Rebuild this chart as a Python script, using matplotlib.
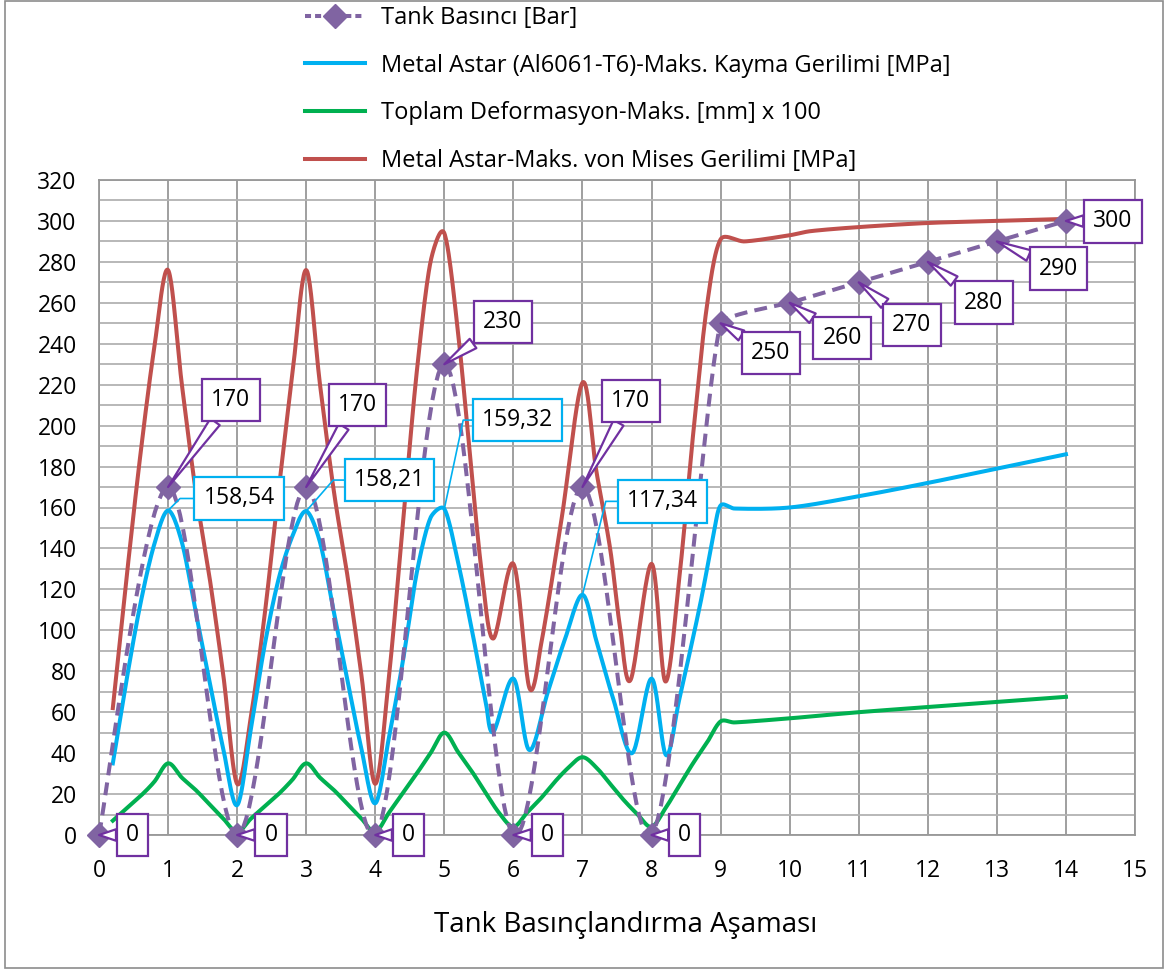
import matplotlib.pyplot as plt
from matplotlib.lines import Line2D
from matplotlib.patches import Rectangle
import numpy as np

plt.rcParams['font.family'] = ['Open Sans', 'DejaVu Sans']

# Tank Basıncı [Bar]
tank_x = [0, 1, 2, 3, 4, 5, 6, 7, 8, 9, 10, 11, 12, 13, 14]
tank_y = [0, 170, 0, 170, 0, 230, 0, 170, 0, 250, 260, 270, 280, 290, 300]

# Metal Astar (Al6061-T6)-Maks. Kayma Gerilimi [MPa]
shear_x = [0.2, 0.4, 0.6, 0.8, 1.0, 1.2, 1.4, 1.6, 1.8, 2.0,
           2.2, 2.4, 2.6, 2.8, 3.0, 3.2, 3.4, 3.6, 3.8, 4.0,
           4.2, 4.4, 4.6, 4.8, 5.0, 5.2, 5.4, 5.6, 5.71, 6.0,
           6.23, 6.5, 6.75, 7.0, 7.2, 7.45, 7.72, 8.0, 8.21, 8.4,
           8.7, 8.9, 9.0, 9.2, 10, 11, 12, 13, 14]
shear_y = [35, 76, 113, 142, 158.54, 143, 109, 75, 42, 14.6,
           52, 93, 125, 146, 158.21, 143, 109, 75, 42, 15.5,
           48, 85, 128, 155, 159.32, 133, 100, 65, 50.4, 76.4,
           41.5, 70, 96, 117.34, 95, 66, 40, 76.4, 39, 66,
           112, 147, 161, 159.5, 160, 165.5, 172, 179, 186]

# Toplam Deformasyon-Maks. [mm] x 100
defo_x = [0.2, 0.4, 0.6, 0.8, 1.0, 1.2, 1.4, 1.6, 1.8, 2.0,
          2.2, 2.4, 2.6, 2.8, 3.0, 3.2, 3.4, 3.6, 3.8, 4.0,
          4.2, 4.4, 4.6, 4.8, 5.0, 5.2, 5.4, 5.6, 5.8, 6.0,
          6.2, 6.4, 6.6, 6.8, 7.0, 7.2, 7.4, 7.6, 7.8, 8.0,
          8.2, 8.4, 8.6, 8.8, 9.0, 9.2, 10, 11, 12, 13, 14]
defo_y = [7, 13, 19, 26, 35, 28, 22, 15, 8, 1.5,
          8, 14, 20, 27, 35, 28, 22, 15, 8, 1.5,
          11, 20.5, 30, 40, 50, 40.5, 31, 20.5, 10.5, 4,
          11, 18, 26, 33, 38, 33, 25, 17, 10, 4,
          13, 24, 35, 45, 55.5, 55, 57, 60, 62.5, 65, 67.5]

# Metal Astar-Maks. von Mises Gerilimi [MPa]
mises_x = [0.2, 0.4, 0.6, 0.8, 1.0, 1.2, 1.4, 1.6, 1.8, 2.0,
           2.2, 2.4, 2.6, 2.8, 3.0, 3.2, 3.4, 3.6, 3.8, 4.0,
           4.2, 4.4, 4.6, 4.8, 5.0, 5.2, 5.4, 5.55, 5.71, 6.0,
           6.23, 6.4, 6.7, 7.0, 7.2, 7.4, 7.55, 7.7, 8.0, 8.2,
           8.4, 8.6, 8.8, 9.0, 9.35, 10.0, 10.3, 11, 12, 13, 14]
mises_y = [62, 126, 186, 238, 276, 220, 168, 126, 78, 25,
           58, 108, 168, 225, 276, 220, 168, 126, 78, 25,
           78, 152, 226, 280, 294, 245, 175, 126, 96, 132.5,
           72, 93, 155, 221, 178, 140, 100, 76, 132.5, 75,
           125, 195, 258, 291, 290, 293, 295, 297, 299, 300, 301]

# etiket kutuları (konum: veri koordinatı)
tank_lbl_pos = [(0.485, 0), (1.91, 212.6), (2.49, 0), (3.74, 210.2), (4.48, 0),
                (5.845, 250.6), (6.49, 0), (7.70, 212.1), (8.48, 0), (9.73, 235.5),
                (10.76, 242.7), (11.77, 249.0), (12.81, 260.1), (13.89, 276.7),
                (14.68, 299.8)]
shear_lbl = [(1.0, 158.54, '158,54', 2.03, 164.4, 45),
             (3.0, 158.21, '158,21', 4.21, 173.4, 49),
             (5.0, 159.32, '159,32', 6.06, 202.7, 78),
             (7.0, 117.34, '117,34', 8.16, 163.0, 76)]

PURPLE = '#8064A2'
BLUE = '#00B0F0'
GREEN = '#00B050'
RED = '#C0504D'
LBL_PURPLE = '#7030A0'

fig = plt.figure(figsize=(11.68, 9.76), dpi=100)
fig.add_artist(Rectangle((5 / 1168, 8 / 976), 1158 / 1168, 967 / 976,
                         transform=fig.transFigure, fill=False,
                         ec='#8c8c8c', lw=1.2))
ax = fig.add_axes([99 / 1168, 141 / 976, 1036 / 1168, 655 / 976])
ax.set_xlim(0, 15)
ax.set_ylim(0, 320)
ax.set_xticks(range(0, 16))
ax.set_yticks(range(0, 321, 20))
ax.set_yticks(range(10, 320, 20), minor=True)
ax.grid(True, axis='y', which='both', color='#b2b2b2', lw=1.3)
ax.grid(True, axis='x', which='major', color='#979797', lw=1.3)
ax.set_axisbelow(True)
for s in ax.spines.values():
    s.set_color('#979797')
    s.set_linewidth(1.3)
ax.tick_params(axis='both', which='both', length=0, labelsize=16.5)
ax.tick_params(axis='y', pad=16)
ax.tick_params(axis='x', pad=17)


def smooth(x, y, n=24, k=0.33):
    # Excel benzeri yumuşatılmış çizgi (Bezier), ekran koordinatında
    p = ax.transData.transform(np.column_stack([x, y]))
    P = np.vstack([p[0], p, p[-1]])
    T = (P[2:] - P[:-2]) / 6
    t = np.linspace(0, 1, n)[:, None]
    out = []
    for i in range(len(p) - 1):
        p1, p2 = p[i], p[i + 1]
        L = np.hypot(*(p2 - p1))
        t1, t2 = T[i], T[i + 1]
        n1, n2 = np.hypot(*t1), np.hypot(*t2)
        if n1 > k * L:
            t1 = t1 * k * L / n1
        if n2 > k * L:
            t2 = t2 * k * L / n2
        c1 = p1 + t1
        c2 = p2 - t2
        seg = (1 - t) ** 3 * p1 + 3 * (1 - t) ** 2 * t * c1 + 3 * (1 - t) * t ** 2 * c2 + t ** 3 * p2
        out.append(seg if i == 0 else seg[1:])
    d = ax.transData.inverted().transform(np.vstack(out))
    return d[:, 0], d[:, 1]


lw = 2.9
sx, sy = smooth(mises_x, mises_y)
ax.plot(sx, sy, color=RED, lw=lw, zorder=3)
sx, sy = smooth(defo_x, defo_y)
ax.plot(sx, sy, color=GREEN, lw=lw, zorder=3)
sx, sy = smooth(shear_x, shear_y)
ax.plot(sx, sy, color=BLUE, lw=lw, zorder=4)
sx, sy = smooth(tank_x, tank_y, k=0.12)
ax.plot(sx, sy, color=PURPLE, lw=lw, dashes=(3.2, 1.8), zorder=5)
ax.plot(tank_x, tank_y, ls='none', marker='D', ms=12.5, color=PURPLE, zorder=6,
        clip_on=False)

for (x, y), (lx, ly) in zip(zip(tank_x, tank_y), tank_lbl_pos):
    ax.annotate(str(y), xy=(x, y), xytext=(lx, ly), textcoords='data',
                ha='center', va='center', fontsize=16.5, zorder=8,
                annotation_clip=False,
                bbox=dict(boxstyle='square,pad=0.4', fc='white', ec=LBL_PURPLE, lw=1.6),
                arrowprops=dict(arrowstyle='wedge,tail_width=0.5,shrink_factor=0.5',
                                fc='white', ec=LBL_PURPLE, lw=1.6,
                                shrinkA=0, shrinkB=0))

for x, y, txt, lx, ly, ang in shear_lbl:
    ax.annotate(txt, xy=(x, y), xytext=(lx, ly), textcoords='data',
                ha='center', va='center', fontsize=16.5, zorder=8,
                bbox=dict(boxstyle='square,pad=0.4', fc='white', ec=BLUE, lw=1.6),
                arrowprops=dict(arrowstyle='-', color=BLUE, lw=1.2,
                                relpos=(0, 0.5), shrinkA=0, shrinkB=0,
                                connectionstyle=f'angle,angleA=0,angleB={ang},rad=0'))

handles = [
    Line2D([], [], color=PURPLE, lw=lw, dashes=(1.5, 1.0), marker='D', ms=12.5),
    Line2D([], [], color=BLUE, lw=lw),
    Line2D([], [], color=GREEN, lw=lw),
    Line2D([], [], color=RED, lw=lw),
]
labels = ['Tank Basıncı [Bar]',
          'Metal Astar (Al6061-T6)-Maks. Kayma Gerilimi [MPa]',
          'Toplam Deformasyon-Maks. [mm] x 100',
          'Metal Astar-Maks. von Mises Gerilimi [MPa]']
fig.legend(handles, labels, loc='upper left', bbox_to_anchor=(305 / 1168, 1 - 6 / 976),
           frameon=False, fontsize=17, handlelength=2.55, handletextpad=0.68,
           labelspacing=1.0, borderpad=0, borderaxespad=0, numpoints=1)

fig.text(626 / 1168, 1 - 925 / 976, 'Tank Basınçlandırma Aşaması',
         ha='center', va='center', fontsize=20)

fig.savefig('out.png', dpi=100)
